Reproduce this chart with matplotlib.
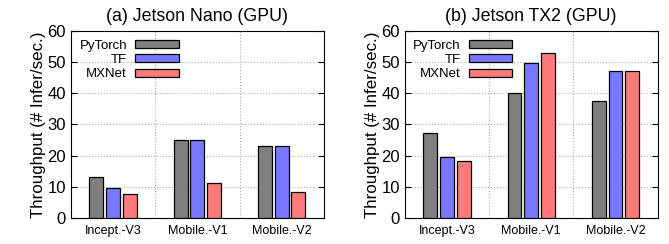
import numpy as np
import matplotlib.pyplot as plt
from matplotlib import rc

rc('font', **{'family': 'Liberation Sans', 'size': 12})

models = ['Incept.-V3', 'Mobile.-V1', 'Mobile.-V2']
frameworks = ['PyTorch', 'TF', 'MXNet']
colors = ['#7f7f7f', '#7777ff', '#ff7b7b']

nano_pytorch = [13.2, 24.9, 23.0]
nano_tf = [9.5, 25.0, 23.2]
nano_mxnet = [7.8, 11.3, 8.2]

tx2_pytorch = [27.2, 40.1, 37.6]
tx2_tf = [19.7, 49.8, 47.1]
tx2_mxnet = [18.4, 53.0, 47.3]

panels = [
    ('(a) Jetson Nano (GPU)', [nano_pytorch, nano_tf, nano_mxnet]),
    ('(b) Jetson TX2 (GPU)', [tx2_pytorch, tx2_tf, tx2_mxnet]),
]

fig = plt.figure(figsize=(6.69, 2.44), dpi=100)
lefts = [0.106, 0.605]
x = np.arange(len(models))
width = 0.165

for left, (title, series) in zip(lefts, panels):
    ax = fig.add_axes([left, 0.107, 0.378, 0.766])
    for i, (name, vals) in enumerate(zip(frameworks, series)):
        ax.bar(x + (i - 1) * 0.198, vals, width, color=colors[i],
               edgecolor='black', linewidth=0.9, label=name, zorder=3)
    ax.set_xlim(-0.5, 2.5)
    ax.set_ylim(0, 60)
    ax.set_yticks(range(0, 61, 10))
    ax.set_xticks(x)
    ax.set_xticklabels(models)
    ax.set_xticks([0.5, 1.5], minor=True)
    ax.tick_params(axis='x', which='minor', length=0)
    ax.grid(True, axis='y', linestyle=':', color='#aaaaaa', linewidth=0.8, zorder=0)
    ax.grid(True, axis='x', which='minor', linestyle=':', color='#aaaaaa', linewidth=0.8, zorder=0)
    ax.tick_params(direction='in', top=False, right=True, length=4, labelsize=12)
    ax.tick_params(axis='x', labelsize=9, pad=5)
    ax.set_ylabel('Throughput (# Infer/sec.)', fontsize=12.2, labelpad=1)
    ax.set_title(title, fontsize=12.8, pad=7)
    ax.legend(loc='upper left', markerfirst=False, frameon=False,
              fontsize=9.5, handlelength=3.3, handleheight=0.55,
              labelspacing=0.18, handletextpad=0.6,
              borderaxespad=0.25, bbox_to_anchor=(0.0, 1.0))

fig.savefig('out.png', dpi=100)
